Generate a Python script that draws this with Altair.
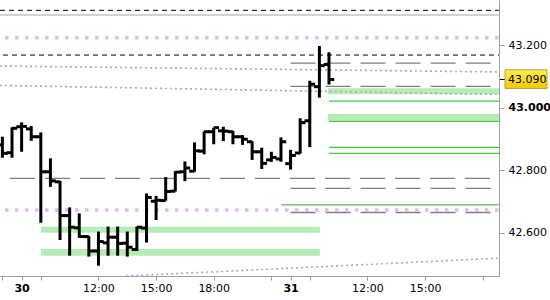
import altair as alt
import pandas as pd

# ---------------- data ----------------
# 30-minute bars, x = trading slot index
slot = list(range(35))
open_ = [42.881, 42.856, 42.939, 42.932, 42.907, 42.795, 42.763, 42.655, 42.616, 42.588,
         42.542, 42.568, 42.586, 42.567, 42.547, 42.615, 42.701, 42.703, 42.733, 42.795,
         42.797, 42.861, 42.923, 42.926, 42.923, 42.907, 42.891, 42.859, 42.833, 42.836,
         42.821, 42.855, 42.958, 43.067, 43.138]
high = [42.907, 42.937, 42.953, 42.941, 42.921, 42.838, 42.766, 42.681, 42.662, 42.590,
        42.604, 42.620, 42.620, 42.604, 42.620, 42.726, 42.718, 42.778, 42.797, 42.828,
        42.889, 42.924, 42.936, 42.939, 42.926, 42.912, 42.893, 42.872, 42.859, 42.905,
        42.865, 42.966, 43.086, 43.197, 43.177]
low = [42.840, 42.840, 42.859, 42.894, 42.632, 42.747, 42.577, 42.527, 42.584, 42.524,
       42.495, 42.527, 42.527, 42.524, 42.542, 42.569, 42.641, 42.703, 42.732, 42.765,
       42.795, 42.851, 42.883, 42.893, 42.883, 42.881, 42.833, 42.804, 42.827, 42.827,
       42.802, 42.853, 42.874, 43.032, 43.074]
close = [42.854, 42.934, 42.940, 42.907, 42.795, 42.766, 42.655, 42.618, 42.588, 42.542,
         42.572, 42.586, 42.566, 42.554, 42.618, 42.713, 42.704, 42.732, 42.794, 42.807,
         42.862, 42.923, 42.936, 42.925, 42.907, 42.899, 42.859, 42.822, 42.841, 42.891,
         42.847, 42.952, 43.075, 43.134, 43.090]
last_price = 43.090

# axis ticks
x_ticks = [0, 2, 4, 10, 16, 22, 28, 30, 32, 38, 44, 50]
x_tick_labels = ["", "30", "", "12:00", "15:00", "18:00", "", "31", "", "12:00", "15:00", ""]
x_bold = [2, 30]
y_ticks = [42.6, 42.8, 43.0, 43.2]
y_bold = [43.0]

X_END = 51.7
X_DOMAIN = [-0.25, X_END]
Y_DOMAIN = [42.462, 43.344]

# horizontal levels
black_dash_y = [43.311, 43.168]
black_dash_x1 = [-0.25, 0.06]
gray_solid_y = [43.296]
purple_dot_y = [43.223, 42.673]
gray_longdash_y = [42.774, 43.142, 43.068, 42.742, 42.665]
gray_longdash_x1 = [0.79, 30.0, 30.0, 30.0, 30.0]
green_line_y = [43.021, 42.956, 42.873, 42.854]
green_line_x1 = 34.0
green2_line_y = [42.689]
green2_line_x1 = 29.0
band_x1 = [4.0, 4.0, 33.9, 33.9]
band_x2 = [33.05, 33.05, X_END, X_END]
band_lo = [42.6003, 42.5268, 43.0425, 42.9580]
band_hi = [42.6195, 42.5482, 43.0617, 42.9796]
slope_x1 = [-0.25, -0.25, 12.9]
slope_y1 = [43.133, 43.071, 42.462]
slope_x2 = [X_END, X_END, X_END]
slope_y2 = [43.114, 43.042, 42.519]

# ---------------- encodings ----------------
FONT = "DejaVu Sans"
xscale = alt.Scale(domain=X_DOMAIN, nice=False, zero=False)
yscale = alt.Scale(domain=Y_DOMAIN, nice=False, zero=False)

label_expr = "".join(f"datum.value == {v} ? '{l}' : " for v, l in zip(x_ticks, x_tick_labels)) + "''"
x_bold_test = " || ".join(f"datum.value == {v}" for v in x_bold)
y_bold_test = " || ".join(f"abs(datum.value - {v}) < 0.0001" for v in y_bold)

xaxis = alt.Axis(values=x_ticks, labelExpr=label_expr, title=None, grid=False,
                 tickSize=4, labelPadding=2, domainColor="#a0a0a0", tickColor="#a0a0a0",
                 labelFont=FONT, labelFontSize=11, labelColor="#000000",
                 labelFontWeight={"condition": {"test": x_bold_test, "value": "bold"}, "value": "normal"},
                 labelOverlap=False, labelFlush=False)
yaxis = alt.Axis(orient="right", values=y_ticks, format=".3f", title=None, grid=False,
                 tickSize=5, labelPadding=4, domainColor="#a0a0a0", tickColor="#a0a0a0",
                 labelFont=FONT, labelFontSize=11, labelColor="#000000",
                 labelFontWeight={"condition": {"test": y_bold_test, "value": "bold"}, "value": "normal"},
                 labelOverlap=False, labelFlush=False)


def X(f):
    return alt.X(f, type="quantitative", scale=xscale, axis=xaxis)


def Y(f):
    return alt.Y(f, type="quantitative", scale=yscale, axis=yaxis)


# ---------------- tables ----------------
ohlc = pd.DataFrame({"slot": slot, "open": open_, "high": high, "low": low, "close": close})
bands = pd.DataFrame({"x1": band_x1, "x2": band_x2, "lo": band_lo, "hi": band_hi})
bdash = pd.DataFrame({"x1": black_dash_x1, "x2": [X_END] * len(black_dash_y), "y": black_dash_y})
gsolid = pd.DataFrame({"x1": [-0.25], "x2": [X_END], "y": gray_solid_y})
pdot = pd.DataFrame({"x1": [0.27] * len(purple_dot_y), "x2": [X_END] * len(purple_dot_y), "y": purple_dot_y})
gld = pd.DataFrame({"x1": gray_longdash_x1, "x2": [X_END] * len(gray_longdash_y), "y": gray_longdash_y})
gl1 = pd.DataFrame({"x1": [green_line_x1] * len(green_line_y), "x2": [X_END] * len(green_line_y), "y": green_line_y})
gl2 = pd.DataFrame({"x1": [green2_line_x1], "x2": [X_END], "y": green2_line_y})
slopes = pd.DataFrame({"x1": slope_x1, "y1": slope_y1, "x2": slope_x2, "y2": slope_y2})
lastp = pd.DataFrame({"p": [last_price]})

# ---------------- layers ----------------
band_layer = alt.Chart(bands).mark_rect(color="#b5ebb5").encode(
    x=X("x1"), x2="x2", y=Y("lo"), y2="hi")

slope_layer = alt.Chart(slopes).mark_rule(color="#ababab", strokeWidth=1.6, strokeDash=[2, 3]).encode(
    x=X("x1"), x2="x2", y=Y("y1"), y2="y2")

gsolid_layer = alt.Chart(gsolid).mark_rule(color="#a8a8a8", strokeWidth=1).encode(
    x=X("x1"), x2="x2", y=Y("y"))

bdash_layer = alt.Chart(bdash).mark_rule(color="#000000", strokeWidth=1, strokeDash=[5, 4]).encode(
    x=X("x1"), x2="x2", y=Y("y"))

gld_layer = alt.Chart(gld).mark_rule(color="#7f7f7f", strokeWidth=1.3, strokeDash=[25, 10]).encode(
    x=X("x1"), x2="x2", y=Y("y"))

gl1_layer = alt.Chart(gl1).mark_rule(color="#45cc45", strokeWidth=1.3).encode(
    x=X("x1"), x2="x2", y=Y("y"))

gl2_layer = alt.Chart(gl2).mark_rule(color="#62b862", strokeWidth=1.3).encode(
    x=X("x1"), x2="x2", y=Y("y"))

pdot_layer = alt.Chart(pdot).mark_rule(color="#dcbdf0", strokeWidth=3.5, strokeDash=[3.5, 6.5]).encode(
    x=X("x1"), x2="x2", y=Y("y"))

hl_layer = alt.Chart(ohlc).mark_rule(color="#000000", strokeWidth=3, strokeCap="butt").encode(
    x=X("slot"), y=Y("low"), y2="high")

open_layer = alt.Chart(ohlc).transform_calculate(xo="datum.slot - 0.55").mark_rule(
    color="#000000", strokeWidth=3, strokeCap="butt").encode(
    x=X("xo:Q"), x2="slot", y=Y("open"))

close_layer = alt.Chart(ohlc).transform_calculate(xc="datum.slot + 0.55").mark_rule(
    color="#000000", strokeWidth=3, strokeCap="butt").encode(
    x=X("slot"), x2="xc:Q", y=Y("close"))

# last-price marker on the right axis
lp_tick = alt.Chart(lastp).mark_rule(color="#000000", strokeWidth=1).encode(
    x=alt.value(500), x2=alt.value(505), y=Y("p"))

lp_box = alt.Chart(lastp).transform_calculate(
    top="datum.p + 0.031", bot="datum.p - 0.029").mark_rect(
    fill=alt.Gradient(gradient="linear",
                      stops=[alt.GradientStop(color="#fff04a", offset=0),
                             alt.GradientStop(color="#f7c800", offset=1)],
                      x1=0, x2=0, y1=0, y2=1),
    stroke="#b8a050", strokeWidth=1).encode(
    x=alt.value(505), x2=alt.value(547), y=Y("top:Q"), y2="bot:Q")

lp_text = alt.Chart(lastp).mark_text(
    align="left", baseline="middle", font=FONT, fontSize=11, color="#000000", dy=1).encode(
    x=alt.value(508), y=Y("p"), text=alt.Text("p:Q", format=".3f"))

chart = alt.layer(
    band_layer, slope_layer, gsolid_layer, bdash_layer, gld_layer, gl1_layer, gl2_layer,
    pdot_layer, hl_layer, open_layer, close_layer, lp_tick, lp_box, lp_text
).properties(
    width=499, height=276,
    padding={"left": 0, "top": 0, "right": 51, "bottom": 24},
    autosize=alt.AutoSizeParams(type="none"),
    background="#ffffff",
).configure_view(stroke=None)

chart.save("out.html", embed_options={"renderer": "svg", "actions": False})
